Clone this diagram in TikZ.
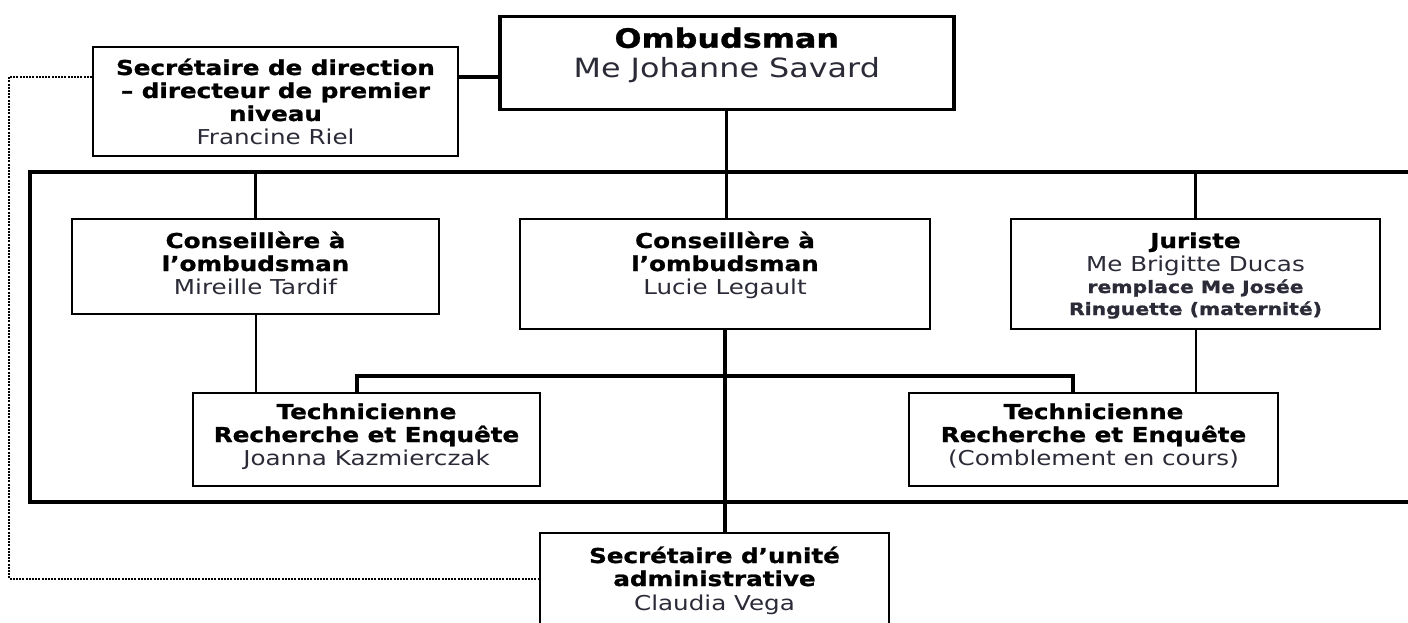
\documentclass[tikz,border=0pt]{standalone}
\usepackage{fontspec}
\setmainfont[FakeStretch=1.2, BoldFeatures={FakeBold=1.2}]{DejaVu Sans}
\definecolor{nm}{HTML}{2B2B38}
\newcommand\btxt[5]{\parbox[c][#2pt][t]{#1pt}{\centering\rule{0pt}{#3pt}#5\baselineskip=#4pt\relax\par}}
\newcommand\nm[1]{{\color{nm}#1}}
\begin{document}
\begin{tikzpicture}[x=1pt,y=-1pt,
  box/.style={draw, line width=2pt, inner sep=0pt, anchor=north west, fill=white,
    font=\fontsize{20.5}{23}\selectfont},
  bigbox/.style={box, line width=3.5pt, font=\fontsize{26.5}{30}\selectfont},
  thickline/.style={line width=3.2pt},
  thinline/.style={line width=2pt},
  frameline/.style={line width=3.6pt},
  dotline/.style={line width=1.4pt, dash pattern=on 2pt off 1.2pt}]
\useasboundingbox (0,0) rectangle (1408,623);
\clip (0,0) rectangle (1408,623);
\fill[white] (0,0) rectangle (1408,623);
% coordinates
\coordinate (y77) at (0,77);
\coordinate (ft) at (0,172);
\coordinate (fb) at (0,502);
\coordinate (bl) at (357,376);
\coordinate (br) at (1073,376);
\coordinate (dc) at (9,579);
% frame
\draw[frameline] (1440,172) -- (30,172) -- (30,502) -- (1440,502);
% nodes
\node[bigbox] (omb) at (498,15) {\btxt{454}{93}{31}{30}{{\bfseries Ombudsman}\\\nm{Me Johanne Savard}}};
\node[box] (sdir) at (92,46) {\btxt{365}{109}{28}{23.5}{{\bfseries Secrétaire de direction\\ – directeur de premier\\ niveau}\\\nm{Francine Riel}}};
\node[box] (c1) at (71,218) {\btxt{367}{95}{29}{23}{{\bfseries Conseillère à\\ l’ombudsman}\\\nm{Mireille Tardif}}};
\node[box] (c2) at (519,218) {\btxt{410}{110}{29}{23}{{\bfseries Conseillère à\\ l’ombudsman}\\\nm{Lucie Legault}}};
\node[box] (jur) at (1010,218) {\btxt{369}{110}{29}{22}{{\bfseries Juriste}\\\nm{Me Brigitte Ducas}\\{\fontsize{17}{22}\selectfont\bfseries\color{nm}remplace Me Josée\\ Ringuette (maternité)}}};
\node[box] (t1) at (192,392) {\btxt{347}{93}{26}{23.5}{{\bfseries Technicienne\\ Recherche et Enquête}\\\nm{Joanna Kazmierczak}}};
\node[box] (t2) at (908,392) {\btxt{369}{93}{26}{23.5}{{\bfseries Technicienne\\ Recherche et Enquête}\\\nm{(Comblement en cours)}}};
\node[box] (sunit) at (539,532) {\btxt{349}{110}{30}{24}{{\bfseries Secrétaire d’unité\\ administrative}\\\nm{Claudia Vega}}};
% connectors
\draw[thickline] (sdir.east |- y77) -- (omb.west |- y77);
\draw[thickline] (omb.south) -- (omb.south |- c2.north);
\draw[thickline] (c1.north) -- (c1.north |- ft);
\draw[thickline] (jur.north) -- (jur.north |- ft);
\draw[thinline] (c1.south) -- (c1.south |- t1.north);
\draw[thinline] (jur.south) -- (jur.south |- t2.north);
\draw[thickline] (c2.south) -- (c2.south |- sunit.north);
\draw[thickline] (bl |- t1.north) -- (bl) -- (br) -- (br |- t2.north);
\draw[dotline] (sdir.west |- y77) -| (dc) -- (dc -| sunit.west);
\end{tikzpicture}
\end{document}
